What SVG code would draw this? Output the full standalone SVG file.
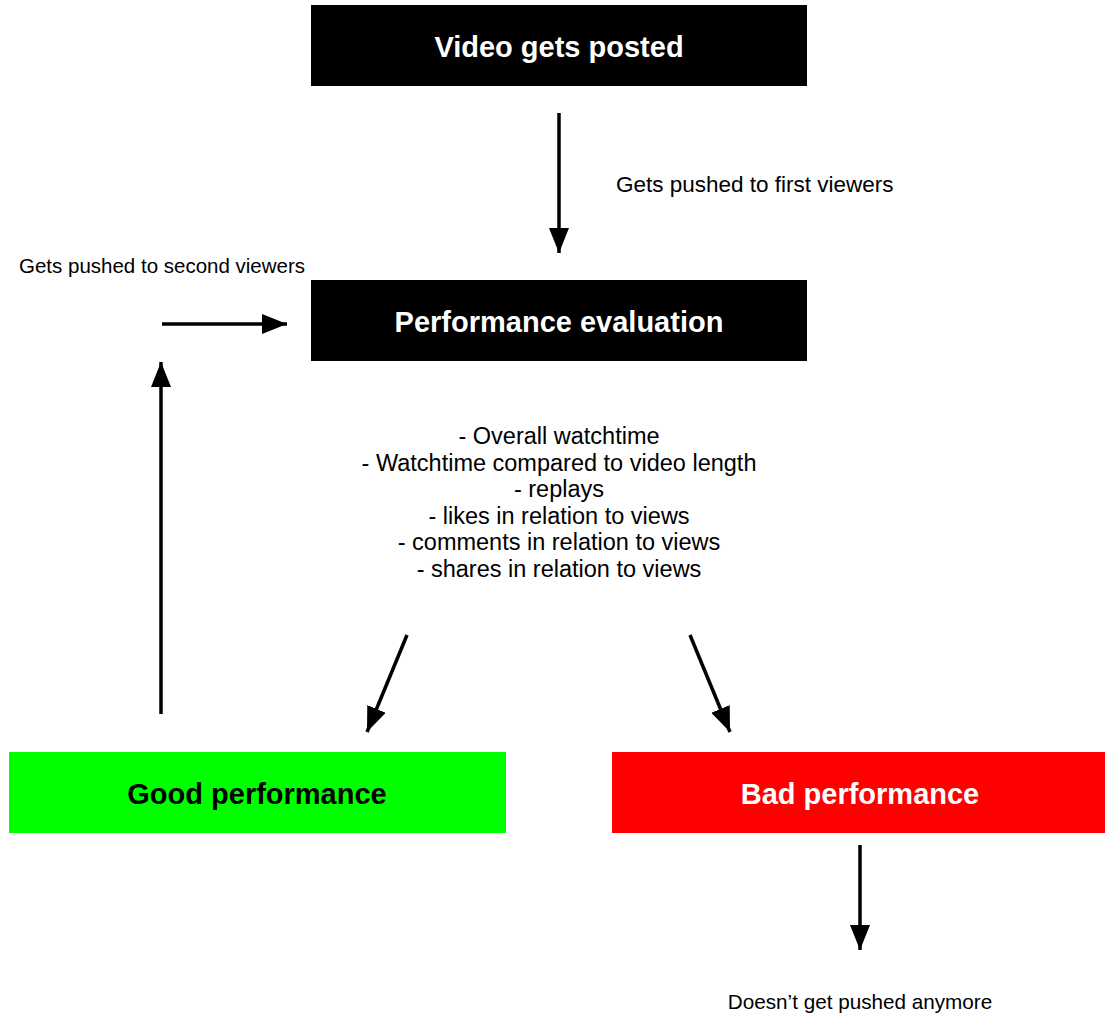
<svg xmlns="http://www.w3.org/2000/svg" width="1105" height="1016" viewBox="0 0 1105 1016">
<style>
.box-title{font-family:"Liberation Sans",Arial,sans-serif;font-weight:bold;font-size:29px;text-anchor:middle}
.lbl{font-family:"Liberation Sans",Arial,sans-serif;font-size:22.5px;fill:#000}
.bul{font-family:"Liberation Sans",Arial,sans-serif;font-size:23.5px;fill:#000;text-anchor:middle}
.conn{stroke:#000;stroke-width:3.5;fill:none;marker-end:url(#ah)}
</style>
<defs>
<marker id="ah" markerUnits="userSpaceOnUse" markerWidth="26" markerHeight="20" refX="25" refY="10" orient="auto" viewBox="0 0 26 20">
<path d="M0,0 L25,10 L0,20 Z" fill="#000"/>
</marker>
</defs>
<rect width="1105" height="1016" fill="#fff"/>
<g id="node-posted">
<rect x="311" y="5" width="496" height="81" fill="#000"/>
<text class="box-title" x="559" y="57" fill="#fff">Video gets posted</text>
</g>
<g id="node-evaluation">
<rect x="311" y="280" width="496" height="81" fill="#000"/>
<text class="box-title" x="559" y="332" fill="#fff">Performance evaluation</text>
</g>
<g id="node-good">
<rect x="9" y="752" width="497" height="81" fill="#00ff00"/>
<text class="box-title" x="257" y="804" fill="#000">Good performance</text>
</g>
<g id="node-bad">
<rect x="612" y="752" width="493" height="81" fill="#ff0000"/>
<text class="box-title" x="860" y="804" fill="#fff">Bad performance</text>
</g>
<g id="connectors">
<line class="conn" x1="559" y1="113" x2="559" y2="253"/>
<line class="conn" x1="162" y1="324" x2="287" y2="324"/>
<line class="conn" x1="161" y1="714" x2="161" y2="362"/>
<line class="conn" x1="407" y1="635" x2="367" y2="732"/>
<line class="conn" x1="690" y1="635" x2="730" y2="732"/>
<line class="conn" x1="860" y1="845" x2="860" y2="950"/>
</g>
<g id="labels">
<text class="lbl" x="616" y="192">Gets pushed to first viewers</text>
<text class="lbl" x="19" y="273" style="font-size:20.5px">Gets pushed to second viewers</text>
<text class="bul" x="559" y="444">- Overall watchtime</text>
<text class="bul" x="559" y="470.5">- Watchtime compared to video length</text>
<text class="bul" x="559" y="497">- replays</text>
<text class="bul" x="559" y="523.5">- likes in relation to views</text>
<text class="bul" x="559" y="550">- comments in relation to views</text>
<text class="bul" x="559" y="576.5">- shares in relation to views</text>
<text class="lbl" x="860" y="1009" text-anchor="middle" style="font-size:20.7px">Doesn’t get pushed anymore</text>
</g>
</svg>
